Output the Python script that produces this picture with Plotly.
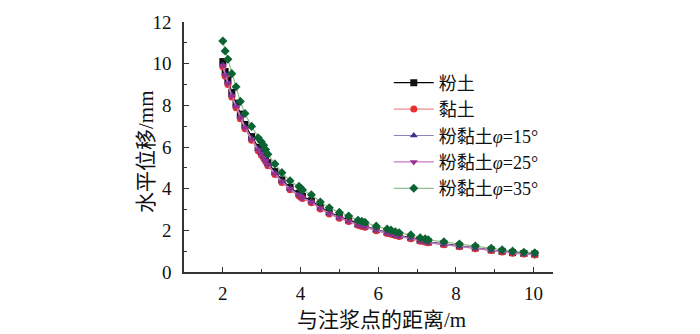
import plotly.graph_objects as go

# distance from grouting point (m)
distance = [2.00, 2.06, 2.13, 2.23, 2.34, 2.45, 2.57, 2.74, 2.91, 2.99, 3.05, 3.10, 3.16,
            3.34, 3.52, 3.73, 3.96, 4.01, 4.05, 4.28, 4.51, 4.74, 5.00, 5.24, 5.48, 5.58,
            5.66, 5.95, 6.23, 6.33, 6.44, 6.54, 6.84, 7.08, 7.21, 7.29, 7.69, 8.09, 8.50,
            8.91, 9.19, 9.46, 9.75, 10.03]

# horizontal displacement (mm) for each soil type
silt = [10.10, 9.62, 9.22, 8.62, 8.10, 7.58, 7.08, 6.50, 5.98, 5.78, 5.62, 5.45, 5.25,
        4.82, 4.42, 4.06, 3.78, 3.70, 3.63, 3.42, 3.12, 2.86, 2.66, 2.49, 2.30, 2.25,
        2.21, 2.04, 1.91, 1.87, 1.80, 1.75, 1.65, 1.52, 1.48, 1.44, 1.35, 1.25, 1.16,
        1.06, 0.99, 0.93, 0.89, 0.86]
clay = [9.85, 9.40, 9.00, 8.40, 7.88, 7.36, 6.88, 6.32, 5.82, 5.62, 5.46, 5.30, 5.10,
        4.68, 4.30, 3.95, 3.66, 3.59, 3.53, 3.32, 3.03, 2.78, 2.58, 2.42, 2.24, 2.19,
        2.15, 1.98, 1.85, 1.81, 1.75, 1.70, 1.60, 1.48, 1.44, 1.40, 1.31, 1.21, 1.12,
        1.03, 0.96, 0.90, 0.86, 0.82]
silty_clay_15 = [9.95, 9.50, 9.10, 8.50, 7.98, 7.46, 6.97, 6.40, 5.90, 5.70, 5.53, 5.37, 5.17,
                 4.75, 4.36, 4.00, 3.72, 3.64, 3.58, 3.37, 3.07, 2.82, 2.62, 2.45, 2.27, 2.22,
                 2.18, 2.01, 1.88, 1.84, 1.77, 1.72, 1.62, 1.50, 1.46, 1.42, 1.33, 1.23, 1.14,
                 1.05, 0.98, 0.92, 0.88, 0.84]
silty_clay_25 = [9.90, 9.45, 9.05, 8.45, 7.93, 7.41, 6.92, 6.36, 5.86, 5.66, 5.50, 5.33, 5.14,
                 4.71, 4.33, 3.97, 3.69, 3.62, 3.55, 3.34, 3.05, 2.80, 2.60, 2.43, 2.25, 2.20,
                 2.16, 1.99, 1.86, 1.82, 1.76, 1.71, 1.61, 1.49, 1.45, 1.41, 1.32, 1.22, 1.13,
                 1.04, 0.97, 0.91, 0.87, 0.83]
silty_clay_35 = [11.09, 10.61, 10.21, 9.52, 8.89, 8.19, 7.61, 6.99, 6.44, 6.25, 6.08, 5.88, 5.65,
                 5.19, 4.77, 4.38, 4.11, 4.02, 3.94, 3.71, 3.36, 3.08, 2.86, 2.69, 2.48, 2.43,
                 2.38, 2.20, 2.06, 2.01, 1.93, 1.88, 1.78, 1.64, 1.59, 1.54, 1.45, 1.34, 1.25,
                 1.14, 1.06, 1.00, 0.95, 0.92]

names = ["粉土", "黏土", "粉黏土<i>φ</i>=15°", "粉黏土<i>φ</i>=25°", "粉黏土<i>φ</i>=35°"]
series = [silt, clay, silty_clay_15, silty_clay_25, silty_clay_35]
line_colors = ["#000000", "#f08a8a", "#8a86bd", "#c777c7", "#94bd94"]
marker_colors = ["#111111", "#e8312f", "#3a3290", "#96308f", "#0b6232"]
symbols = ["square", "circle", "triangle-up", "triangle-down", "diamond"]

FONT = "Liberation Serif, Noto Sans CJK SC"

fig = go.Figure()
for name, ys, lc, mc, sym in zip(names, series, line_colors, marker_colors, symbols):
    fig.add_trace(go.Scatter(
        x=distance, y=ys, name=name, mode="lines+markers",
        line=dict(color=lc, width=1.2),
        marker=dict(symbol=sym, size=7, color=mc, line=dict(width=0)),
    ))

axis_common = dict(
    showline=True, linecolor="#333333", linewidth=1.5,
    ticks="inside", ticklen=5, tickwidth=1.2, tickcolor="#333333",
    showgrid=False, zeroline=False, mirror=False,
    tickfont=dict(family=FONT, size=19, color="#111111"),
    minor=dict(ticks="inside", ticklen=3, tickwidth=1, tickcolor="#333333", dtick=1),
)

fig.update_xaxes(range=[1, 10.5], dtick=2, tick0=0, ticklabelstandoff=3, **axis_common)
fig.update_yaxes(range=[0, 12], dtick=2, tick0=0, ticklabelstandoff=7, **axis_common)

fig.update_layout(
    width=700, height=334,
    margin=dict(l=184, r=147, t=15, b=62),
    plot_bgcolor="white", paper_bgcolor="white",
    font=dict(family=FONT, color="#111111"),
    legend=dict(
        x=0.555, y=0.83, xanchor="left", yanchor="top",
        bgcolor="rgba(0,0,0,0)", borderwidth=0,
        font=dict(family=FONT, size=18, color="#111111"),
        tracegroupgap=0, itemwidth=40,
    ),
    annotations=[
        dict(text="与注浆点的距离/m", xref="paper", yref="paper",
             x=(381 - 184) / 369, y=-0.19, xanchor="center", yanchor="middle",
             showarrow=False, font=dict(family=FONT, size=21, color="#111111")),
        dict(text="水平位移/mm", xref="paper", yref="paper",
             x=(146 - 184) / 369, y=0.48, xanchor="center", yanchor="middle",
             textangle=-90, showarrow=False,
             font=dict(family=FONT, size=21, color="#111111")),
    ],
)

fig.write_html("out.html")
